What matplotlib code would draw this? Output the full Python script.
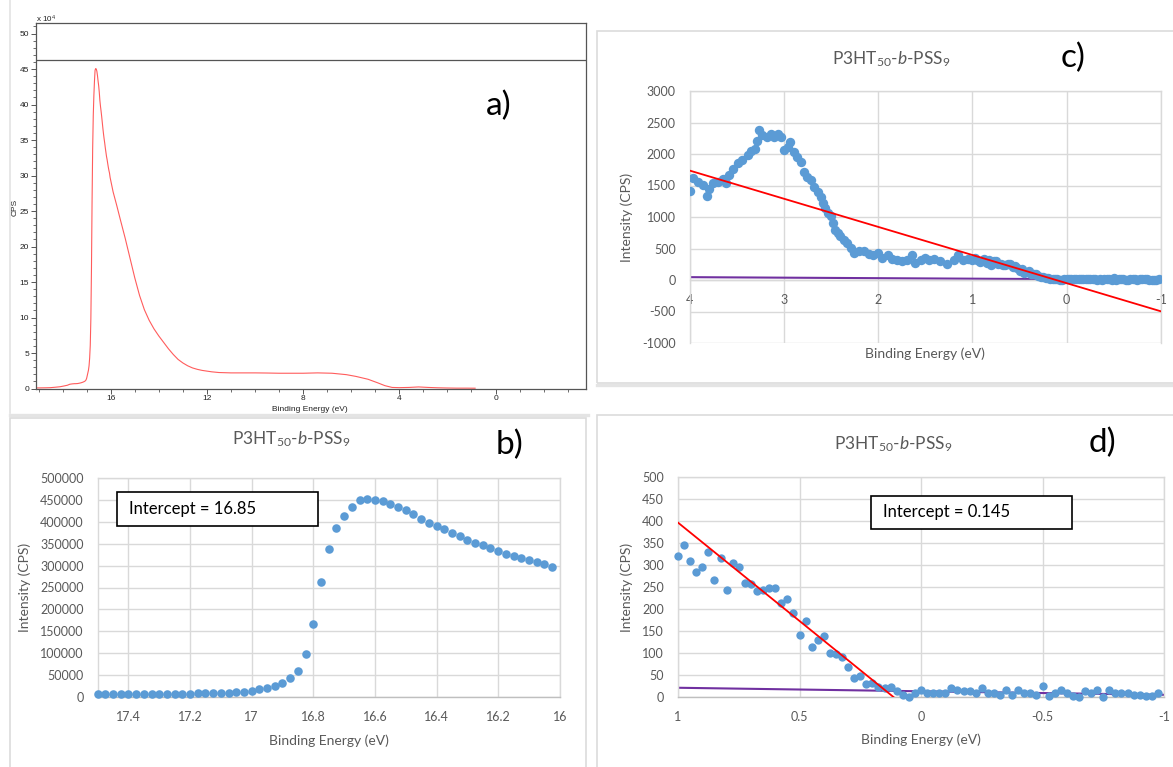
import numpy as np
import matplotlib
matplotlib.use("Agg")
import matplotlib.pyplot as plt
from matplotlib.patches import Rectangle
from matplotlib.lines import Line2D
from matplotlib.ticker import MultipleLocator, FixedLocator

plt.rcParams["font.family"] = ["Lato", "DejaVu Sans"]
plt.rcParams["mathtext.fontset"] = "custom"
plt.rcParams["mathtext.rm"] = "Lato"
plt.rcParams["mathtext.it"] = "Lato:italic"
plt.rcParams["mathtext.bf"] = "Lato:bold"
plt.rcParams["axes.unicode_minus"] = False

# ---------------------------------------------------------------- data
# UPS onset region (P3HT50-b-PSS9), 0.025 eV steps
b_energy = [17.5, 17.475, 17.45, 17.425, 17.4, 17.375, 17.35, 17.325, 17.3, 17.275,
            17.25, 17.225, 17.2, 17.175, 17.15, 17.125, 17.1, 17.075, 17.05, 17.025,
            17.0, 16.975, 16.95, 16.925, 16.9, 16.875, 16.85, 16.825, 16.8, 16.775,
            16.75, 16.725, 16.7, 16.675, 16.65, 16.625, 16.6, 16.575, 16.55, 16.525,
            16.5, 16.475, 16.45, 16.425, 16.4, 16.375, 16.35, 16.325, 16.3, 16.275,
            16.25, 16.225, 16.2, 16.175, 16.15, 16.125, 16.1, 16.075, 16.05, 16.025]
b_counts = [6800, 6800, 6800, 6900, 6900, 7000, 7200, 7300, 7500, 7700,
            7900, 8100, 8400, 8700, 9000, 9400, 9800, 10300, 11000, 12200,
            14400, 18200, 22000, 25800, 32000, 43000, 60700, 98000, 168000, 262500,
            338000, 384600, 412700, 433200, 448400, 450700, 450000, 446900, 440800, 433200,
            426400, 417300, 405900, 397600, 390700, 383100, 374800, 366500, 358900, 352000,
            346000, 339100, 333100, 327000, 322500, 317100, 311800, 307300, 303500, 297400]

# full survey: pre-edge part and valence tail around the onset region above
a_energy_pre = [19.12, 18.9, 18.7, 18.5, 18.3, 18.1, 17.95, 17.8, 17.7, 17.6]
a_counts_pre = [800, 900, 1000, 1200, 1800, 2500, 3500, 4600, 6000, 6500]
a_energy_tail = [15.9, 15.75, 15.6, 15.4, 15.2, 15.0, 14.8, 14.6, 14.4, 14.2,
                 14.0, 13.8, 13.6, 13.4, 13.2, 13.0, 12.8, 12.6, 12.4, 12.2,
                 12.0, 11.8, 11.5, 11.0, 10.5, 10.0, 9.5, 9.0, 8.5, 8.0,
                 7.4, 6.8, 6.2, 5.8, 5.3, 4.9, 4.6, 4.3, 4.0, 3.6,
                 3.2, 2.8, 2.4, 2.0, 1.6, 1.2, 0.85]
a_counts_tail = [277000, 258000, 238000, 212000, 184000, 156000, 131000, 111000, 96000, 84000,
                 74000, 65000, 56000, 48000, 41000, 36000, 32000, 29000, 27000, 25500,
                 24500, 23500, 22500, 22000, 22000, 22000, 21800, 21500, 21500, 21500,
                 22000, 21500, 19500, 17000, 13000, 8000, 4000, 1500, 1200, 1500,
                 2200, 1500, 1000, 700, 500, 500, 400]

# valence-band edge, 0.025 eV steps
d_energy = [1.0, 0.975, 0.95, 0.925, 0.9, 0.875, 0.85, 0.825, 0.8, 0.775,
            0.75, 0.725, 0.7, 0.675, 0.65, 0.625, 0.6, 0.575, 0.55, 0.525,
            0.5, 0.475, 0.45, 0.425, 0.4, 0.375, 0.35, 0.325, 0.3, 0.275,
            0.25, 0.225, 0.2, 0.175, 0.15, 0.125, 0.1, 0.075, 0.05, 0.025,
            0.0, -0.025, -0.05, -0.075, -0.1, -0.125, -0.15, -0.175, -0.2, -0.225,
            -0.25, -0.275, -0.3, -0.325, -0.35, -0.375, -0.4, -0.425, -0.45, -0.475,
            -0.5, -0.525, -0.55, -0.575, -0.6, -0.625, -0.65, -0.675, -0.7, -0.725,
            -0.75, -0.775, -0.8, -0.825, -0.85, -0.875, -0.9, -0.925, -0.95, -0.975]
d_counts = [320, 345, 310, 284, 296, 329, 265, 317, 243, 305,
            296, 259, 256, 240, 243, 247, 247, 213, 222, 191,
            141, 173, 113, 130, 139, 101, 98, 92, 68, 43,
            47, 30, 32, 22, 20, 22, 13, 5, 0, 9,
            17, 10, 8, 9, 8, 20, 17, 13, 13, 8,
            20, 9, 9, 5, 17, 5, 17, 10, 8, 5,
            25, 3, 10, 17, 8, 3, 0, 13, 9, 17,
            0, 17, 8, 10, 8, 5, 5, 2, 2, 8]

# valence band above the edge region
c_energy_hi = [4.00, 3.96, 3.91, 3.86, 3.82, 3.79, 3.75, 3.70, 3.65, 3.61,
               3.58, 3.54, 3.49, 3.44, 3.38, 3.35, 3.31, 3.29, 3.26, 3.23,
               3.18, 3.14, 3.10, 3.06, 3.03, 3.00, 2.96, 2.93, 2.89, 2.86,
               2.82, 2.79, 2.75, 2.71, 2.68, 2.64, 2.61, 2.58, 2.56, 2.53,
               2.50, 2.48, 2.46, 2.43, 2.40, 2.36, 2.33, 2.29, 2.26, 2.20,
               2.15, 2.10, 2.05, 2.00, 1.96, 1.90, 1.85, 1.80, 1.75, 1.69,
               1.64, 1.61, 1.55, 1.50, 1.46, 1.41, 1.34, 1.27, 1.20, 1.15,
               1.10, 1.05]
c_counts_hi = [1420, 1615, 1550, 1515, 1340, 1445, 1535, 1550, 1605, 1535,
               1660, 1765, 1860, 1910, 1980, 2050, 2085, 2205, 2380, 2300,
               2275, 2325, 2275, 2325, 2275, 2060, 2115, 2195, 2035, 1955,
               1870, 1710, 1630, 1580, 1470, 1390, 1310, 1230, 1150, 1070,
               1015, 910, 800, 750, 695, 640, 590, 510, 430, 465,
               455, 410, 400, 430, 350, 390, 335, 320, 305, 320,
               390, 270, 320, 355, 320, 335, 295, 250, 320, 400,
               320, 340]

# linear fits: leading-edge line and background line
edge_slope = 447.0
edge_intercept_ev = 0.145
bg_slope = 8.0
bg_offset = 13.0

TITLE = r"P3HT$_{50}$-$\mathit{b}$-PSS$_{9}$"
BLUE = "#5B9BD5"
GRAY_TXT = "#595959"
GRID = "#d9d9d9"

# ---------------------------------------------------------------- figure
W, H = 1173, 767
fig = plt.figure(figsize=(W / 100, H / 100), dpi=100)
fig.patch.set_facecolor("white")


def fx(x):
    return x / W


def fy(y):
    return 1 - y / H


def axes_px(x0, y0, x1, y1):
    return fig.add_axes([fx(x0), fy(y1), (x1 - x0) / W, (y1 - y0) / H])


def ftext(x, y, s, **kw):
    return fig.text(fx(x), fy(y), s, **kw)


def hline(x0, x1, y, color, lw):
    fig.add_artist(Line2D([fx(x0), fx(x1)], [fy(y), fy(y)], color=color, lw=lw,
                          transform=fig.transFigure))


def vline(x, y0, y1, color, lw):
    fig.add_artist(Line2D([fx(x), fx(x)], [fy(y0), fy(y1)], color=color, lw=lw,
                          transform=fig.transFigure))


def frame(x0, y0, x1, y1, color="#dcdcdc", lw=1.2):
    fig.add_artist(Rectangle((fx(x0), fy(y1)), (x1 - x0) / W, (y1 - y0) / H,
                             transform=fig.transFigure, fill=False,
                             edgecolor=color, lw=lw))


# panel borders
vline(10, 0, 413, "#e3e3e3", 1.2)
hline(10, 588, 414.5, "#e4e4e4", 2.4)
frame(10, 418, 586, 775)
frame(597, 31, 1185, 383)
hline(597, 1173, 385, "#e4e4e4", 2.4)
frame(597, 415, 1185, 775)

# ---------------------------------------------------------------- a) survey
ax_a = axes_px(35.9, 23.3, 585.5, 388.5)
a_energy = a_energy_pre + b_energy + a_energy_tail
a_counts = a_counts_pre + b_counts + a_counts_tail
ax_a.plot(a_energy, a_counts, color="#ff5c5c", lw=0.8)
ax_a.axhline(46.3e4, color="#555555", lw=0.9)
ax_a.set_xlim(19.11, -3.74)
ax_a.set_ylim(0, 51.45e4)
ax_a.yaxis.set_major_locator(FixedLocator(np.arange(0, 51e4, 5e4)))
ax_a.yaxis.set_minor_locator(MultipleLocator(1e4))
ax_a.set_yticklabels([str(int(v / 1e4)) for v in np.arange(0, 51e4, 5e4)])
ax_a.xaxis.set_major_locator(FixedLocator([16, 12, 8, 4, 0]))
ax_a.xaxis.set_minor_locator(MultipleLocator(1))
ax_a.set_xticklabels(["16", "12", "8", "4", "0"])
ax_a.tick_params(which="major", length=3.5, width=0.7, color="#555555",
                 labelsize=6, pad=1.5, labelcolor="#222222")
ax_a.tick_params(which="minor", length=2, width=0.6, color="#555555")
for lab in ax_a.get_xticklabels() + ax_a.get_yticklabels():
    lab.set_fontfamily("Liberation Sans")
for s in ax_a.spines.values():
    s.set_color("#555555")
    s.set_linewidth(0.9)
ftext(36, 19, r"x 10$^{4}$", fontsize=5.8, ha="left", va="center",
      family="Liberation Sans", color="#222222")
ftext(15, 207, "CPS", fontsize=6, rotation=90, ha="center", va="center",
      family="Liberation Sans", color="#222222")
ftext(310, 410, "Binding Energy (eV)", fontsize=6, ha="center", va="center",
      family="Liberation Sans", color="#222222")
ftext(499, 106, "a)", fontsize=24, ha="center", va="center")


# ---------------------------------------------------------------- helpers for b-d
def excel_axes(ax, xlim, ylim, xticks, xlabels, yticks):
    ax.set_xlim(*xlim)
    ax.set_ylim(*ylim)
    ax.set_xticks(xticks)
    ax.set_xticklabels(xlabels)
    ax.set_yticks(yticks)
    ax.set_yticklabels([str(int(v)) for v in yticks])
    ax.grid(True, color=GRID, lw=1.0)
    ax.set_axisbelow(True)
    ax.tick_params(length=0, labelsize=9, labelcolor=GRAY_TXT, pad=10)
    for s in ax.spines.values():
        s.set_color(GRID)
        s.set_linewidth(1.0)


def intercept_box(x0, y0, x1, y1, label):
    fig.add_artist(Rectangle((fx(x0), fy(y1)), (x1 - x0) / W, (y1 - y0) / H,
                             transform=fig.transFigure, facecolor="white",
                             edgecolor="black", lw=1.2, zorder=5))
    fig.text(fx(x0 + 12), fy((y0 + y1) / 2), label, fontsize=12, ha="left",
             va="center", color="black", zorder=6)


def edge_line(x):
    x = np.asarray(x, dtype=float)
    y_cross = bg_offset + bg_slope * edge_intercept_ev
    return y_cross + edge_slope * (x - edge_intercept_ev)


def bg_line(x):
    x = np.asarray(x, dtype=float)
    return bg_offset + bg_slope * x


# ---------------------------------------------------------------- b) onset
ax_b = axes_px(97.6, 477.7, 559.8, 697.3)
excel_axes(ax_b, (17.5, 16.0), (0, 500000),
           [17.4, 17.2, 17.0, 16.8, 16.6, 16.4, 16.2, 16.0],
           ["17.4", "17.2", "17", "16.8", "16.6", "16.4", "16.2", "16"],
           np.arange(0, 500001, 50000))
ax_b.spines["bottom"].set_color("#bfbfbf")
ax_b.scatter(b_energy, b_counts, s=38, color=BLUE, linewidths=0, zorder=3,
             clip_on=False)
ftext(291, 439, TITLE, fontsize=12.5, color=GRAY_TXT, ha="center", va="center")
ftext(509, 445, "b)", fontsize=24, ha="center", va="center")
ftext(25, 587, "Intensity (CPS)", fontsize=10, rotation=90, color=GRAY_TXT,
      ha="center", va="center")
ftext(329, 741, "Binding Energy (eV)", fontsize=10, color=GRAY_TXT,
      ha="center", va="center")
intercept_box(117, 492, 318, 526, "Intercept = 16.85")

# ---------------------------------------------------------------- c) valence band
ax_c = axes_px(689.6, 91, 1161, 343)
excel_axes(ax_c, (4, -1), (-1000, 3000), [4, 3, 2, 1, 0, -1],
           ["4", "3", "2", "1", "0", "-1"], np.arange(-1000, 3001, 500))
ax_c.spines["bottom"].set_position(("data", 0))
c_energy = c_energy_hi + d_energy
c_counts = c_counts_hi + d_counts
ax_c.plot([4, -1], bg_line([4, -1]), color="#7030A0", lw=1.5, zorder=2)
ax_c.scatter(c_energy, c_counts, s=46, color=BLUE, linewidths=0, zorder=3)
ax_c.plot([4, -1], edge_line([4, -1]), color="#FF0000", lw=1.3, zorder=4)
ftext(891, 59, TITLE, fontsize=12.5, color=GRAY_TXT, ha="center", va="center")
ftext(1073, 58, "c)", fontsize=24, ha="center", va="center")
ftext(627, 217, "Intensity (CPS)", fontsize=10, rotation=90, color=GRAY_TXT,
      ha="center", va="center")
ftext(925, 354, "Binding Energy (eV)", fontsize=10, color=GRAY_TXT,
      ha="center", va="center")

# ---------------------------------------------------------------- d) edge zoom
ax_d = axes_px(678, 477, 1164, 697)
excel_axes(ax_d, (1, -1), (0, 500), [1, 0.5, 0, -0.5, -1],
           ["1", "0.5", "0", "-0.5", "-1"], np.arange(0, 501, 50))
ax_d.spines["bottom"].set_color("#bfbfbf")
ax_d.plot([1, -1], bg_line([1, -1]), color="#7030A0", lw=1.5, zorder=2)
ax_d.scatter(d_energy, d_counts, s=36, color=BLUE, linewidths=0, zorder=3,
             clip_on=False)
ax_d.plot([1, -1], edge_line([1, -1]), color="#FF0000", lw=1.3, zorder=4)
ftext(893, 444, TITLE, fontsize=12.5, color=GRAY_TXT, ha="center", va="center")
ftext(1102, 443, "d)", fontsize=24, ha="center", va="center")
ftext(627, 587, "Intensity (CPS)", fontsize=10, rotation=90, color=GRAY_TXT,
      ha="center", va="center")
ftext(921, 740, "Binding Energy (eV)", fontsize=10, color=GRAY_TXT,
      ha="center", va="center")
intercept_box(871, 496, 1072, 529, "Intercept = 0.145")

fig.savefig("out.png", dpi=100, facecolor="white")
